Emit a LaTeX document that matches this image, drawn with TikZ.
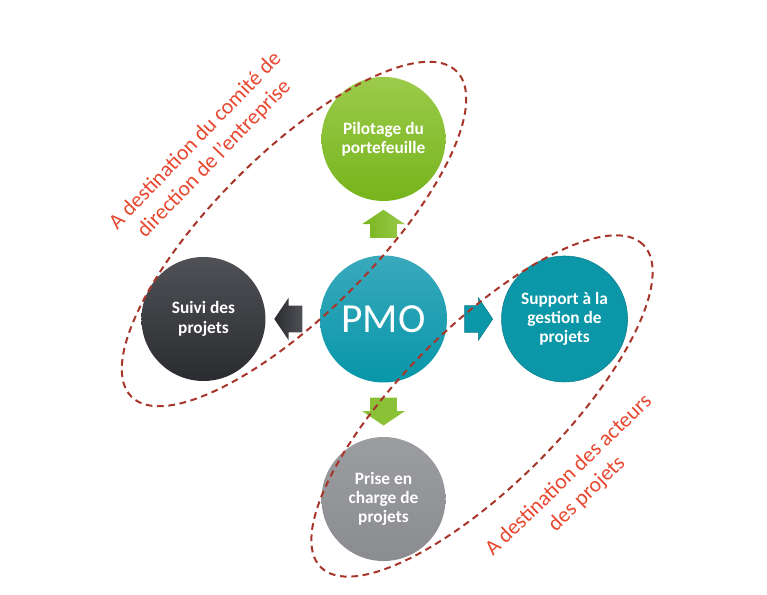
\documentclass[tikz,border=0pt]{standalone}
\usepackage{fontspec}
\setmainfont{Carlito}
\usetikzlibrary{positioning,shapes.arrows,calc}

\definecolor{pmoTop}{HTML}{3AA9BC}
\definecolor{pmoBot}{HTML}{0796A9}
\definecolor{greenTop}{HTML}{9CCB4B}
\definecolor{greenBot}{HTML}{76B41C}
\definecolor{darkTop}{HTML}{505156}
\definecolor{darkBot}{HTML}{2B2C30}
\definecolor{tealFill}{HTML}{0B97A8}
\definecolor{tealLine}{HTML}{0A7C8A}
\definecolor{grayTop}{HTML}{9C9DA1}
\definecolor{grayBot}{HTML}{8B8C90}
\definecolor{zoneLine}{HTML}{A8352A}
\definecolor{zoneText}{HTML}{E8472F}

\begin{document}
\begin{tikzpicture}[
        x=0.75pt, y=0.75pt,
        node distance=40.5pt,
        bubble/.style={circle, minimum size=93pt, inner sep=0pt, align=center, text=white,
                       font=\bfseries\fontsize{13}{14.5}\selectfont},
        flow/.style={single arrow, inner xsep=0pt, inner ysep=9.75pt, minimum width=0pt,
                     minimum height=21pt, single arrow head extend=6pt,
                     single arrow tip angle=112},
        zone/.style={draw=zoneLine, line width=1.5pt, dash pattern=on 5pt off 3.5pt},
        zonelabel/.style={text=zoneText, align=center, font=\fontsize{16.3}{19.5}\selectfont}]
    \useasboundingbox (0,0) rectangle (767,595);
    \node[bubble, minimum size=95.25pt, top color=pmoTop, bottom color=pmoBot,
          font=\fontsize{31}{32}\selectfont] (pmo) at (383.5,276) {PMO};
    \node[bubble, top color=greenTop, bottom color=greenBot] (pilotage) [above=of pmo] {Pilotage du\\portefeuille};
    \node[bubble, top color=darkTop, bottom color=darkBot] (suivi) [left=of pmo] {Suivi des\\projets};
    \node[bubble, minimum size=94.5pt, fill=tealFill, draw=tealLine, thin] (support) [right=of pmo] {Support à la\\gestion de\\projets};
    \node[bubble, top color=grayTop, bottom color=grayBot] (prise) [below=of pmo] {Prise en\\charge de\\projets};
    % arrows between the circles
    \node[flow, rotate=90, left color=greenBot, right color=greenTop] (toPilotage)
        at ($(pmo.north)!0.5!(pilotage.south)$) {};
    \node[flow, rotate=180, left color=darkBot, right color=darkTop] (toSuivi)
        at ($(pmo.west)!0.5!(suivi.east)$) {};
    \node[flow, fill=tealFill, draw=tealLine, thin] (toSupport)
        at ($(pmo.east)!0.5!(support.west)$) {};
    \node[flow, rotate=270, fill=greenTop!55!greenBot] (toPrise)
        at ($(pmo.south)!0.45!(prise.north)$) {};
    % audiences
    \coordinate (comite) at (294,361);
    \coordinate (acteurs) at (482,189);
    \draw[zone, rotate around={45:(comite)}] (comite) ellipse [x radius=230, y radius=80];
    \draw[zone, rotate around={45:(acteurs)}] (acteurs) ellipse [x radius=228, y radius=79];
    \node[zonelabel, rotate=46] (comiteLabel) at (205,445) {A destination du comité de\\direction de l’entreprise};
    \node[zonelabel, rotate=44] (acteursLabel) at (578,110) {A destination des acteurs\\des projets};
\end{tikzpicture}
\end{document}
